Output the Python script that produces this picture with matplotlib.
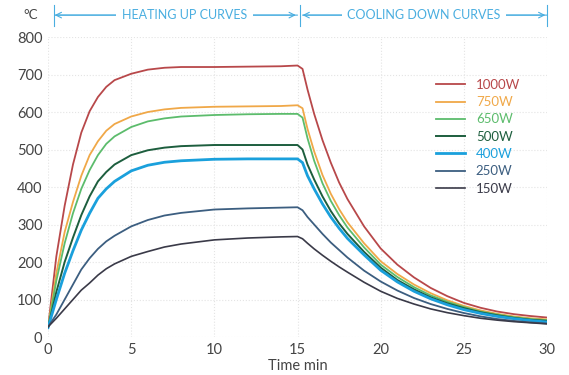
import matplotlib
matplotlib.use("Agg")
import matplotlib.pyplot as plt

plt.rcParams["font.family"] = ["Lato", "DejaVu Sans"]

# ---------------------------------------------------------------------------
# Data (time in minutes, temperature in degC)
# ---------------------------------------------------------------------------
T_HEAT = [0, 0.5, 1, 1.5, 2, 2.5, 3, 3.5, 4, 5, 6, 7, 8, 10, 12, 14, 15]
T_COOL = [15.3, 15.6, 16, 16.5, 17, 17.5, 18, 19, 20, 21, 22, 23, 24, 25, 26, 27, 28, 29, 30]

HEAT_1000 = [25, 215, 350, 460, 545, 602, 640, 667, 685, 702, 713, 718, 720, 720, 721, 722, 724]
HEAT_750 = [25, 170, 280, 360, 430, 485, 522, 550, 568, 588, 600, 607, 611, 614, 615, 616, 618]
HEAT_650 = [25, 150, 250, 330, 395, 445, 485, 515, 535, 560, 575, 583, 588, 592, 594, 595, 595]
HEAT_500 = [25, 120, 200, 265, 325, 375, 415, 440, 460, 485, 498, 505, 509, 512, 512, 512, 512]
HEAT_400 = [25, 100, 170, 230, 285, 330, 370, 395, 415, 443, 458, 466, 470, 474, 475, 475, 475]
HEAT_250 = [27, 60, 100, 140, 180, 210, 235, 255, 270, 295, 312, 324, 331, 340, 343, 345, 346]
HEAT_150 = [27, 50, 75, 100, 125, 144, 165, 182, 195, 215, 228, 240, 248, 259, 264, 267, 268]

COOL_1000 = [715, 660, 595, 525, 465, 412, 368, 295, 236, 193, 159, 131, 109, 91, 78, 68, 61, 56, 52]
COOL_750 = [610, 555, 495, 432, 382, 341, 306, 250, 202, 168, 140, 117, 98, 83, 71, 62, 55, 50, 47]
COOL_650 = [585, 530, 470, 410, 363, 325, 292, 239, 193, 160, 133, 111, 94, 80, 68, 60, 53, 48, 45]
COOL_500 = [500, 460, 420, 375, 336, 303, 275, 227, 185, 152, 127, 106, 90, 77, 66, 58, 51, 46, 43]
COOL_400 = [465, 430, 395, 355, 320, 290, 263, 219, 178, 147, 122, 102, 86, 73, 63, 55, 49, 44, 40]
COOL_250 = [338, 320, 300, 275, 252, 232, 212, 177, 148, 124, 104, 88, 75, 64, 55, 48, 43, 39, 36]
COOL_150 = [262, 250, 235, 218, 202, 187, 173, 146, 122, 103, 88, 75, 65, 57, 50, 45, 41, 38, 35]

LABELS = ["1000W", "750W", "650W", "500W", "400W", "250W", "150W"]
HEAT = [HEAT_1000, HEAT_750, HEAT_650, HEAT_500, HEAT_400, HEAT_250, HEAT_150]
COOL = [COOL_1000, COOL_750, COOL_650, COOL_500, COOL_400, COOL_250, COOL_150]

COLORS = ["#b8484a", "#f0a848", "#5cbc6c", "#1d5e3e", "#1aa0dc", "#3c5e80", "#3a3a48"]
WIDTHS = [1.3, 1.3, 1.3, 1.4, 2.0, 1.3, 1.2]

HEADER_BLUE = "#4aaee0"
TICK_GREY = "#444444"

# ---------------------------------------------------------------------------
# Plot
# ---------------------------------------------------------------------------
fig = plt.figure(figsize=(5.69, 3.75), dpi=100)
ax = fig.add_axes([0.0844, 0.1013, 0.877, 0.80])

for lab, h, c, col, lw in zip(LABELS, HEAT, COOL, COLORS, WIDTHS):
    ax.plot(T_HEAT + T_COOL, h + c, color=col, lw=lw, label=lab,
            solid_joinstyle="round")

ax.set_xlim(0, 30)
ax.set_ylim(0, 800)
ax.set_xticks(range(0, 31, 5))
ax.set_yticks(range(0, 801, 100))
ax.tick_params(length=0, labelsize=10.5, colors=TICK_GREY, pad=4)
ax.grid(True, color="#e4e4e4", linestyle=":", linewidth=0.8)
for s in ax.spines.values():
    s.set_visible(False)
ax.set_xlabel("Time min", fontsize=10.5, color=TICK_GREY, labelpad=2)

leg = ax.legend(loc="upper right", bbox_to_anchor=(0.97, 0.9), frameon=False,
                fontsize=9.5, handlelength=2.2, labelspacing=0.4)
for txt, col in zip(leg.get_texts(), COLORS):
    txt.set_color(col)

# header arrows
trans = ax.get_xaxis_transform()
hy = 1.073
arrow = dict(arrowstyle="->", color=HEADER_BLUE, lw=0.8, shrinkA=0, shrinkB=0)
ax.annotate("", xy=(0.4, hy), xytext=(15, hy), xycoords=trans,
            arrowprops=arrow, annotation_clip=False)
ax.annotate("", xy=(14.9, hy), xytext=(0.4, hy), xycoords=trans,
            arrowprops=arrow, annotation_clip=False)
ax.annotate("", xy=(15.3, hy), xytext=(30, hy), xycoords=trans,
            arrowprops=arrow, annotation_clip=False)
ax.annotate("", xy=(29.9, hy), xytext=(15.3, hy), xycoords=trans,
            arrowprops=arrow, annotation_clip=False)
for xv in (0.35, 15.15, 30.0):
    ax.plot([xv, xv], [hy - 0.035, hy + 0.035], transform=trans,
            color=HEADER_BLUE, lw=0.8, clip_on=False)

ax.text(8.2, hy, "HEATING UP CURVES", transform=trans, ha="center", va="center",
        fontsize=9, color=HEADER_BLUE,
        bbox=dict(facecolor="white", edgecolor="none", pad=4))
ax.text(22.6, hy, "COOLING DOWN CURVES", transform=trans, ha="center", va="center",
        fontsize=9, color=HEADER_BLUE,
        bbox=dict(facecolor="white", edgecolor="none", pad=4))
ax.text(-0.6, hy, "°C", transform=trans, ha="right", va="center",
        fontsize=9.5, color=TICK_GREY)

fig.savefig("out.png", dpi=100)
